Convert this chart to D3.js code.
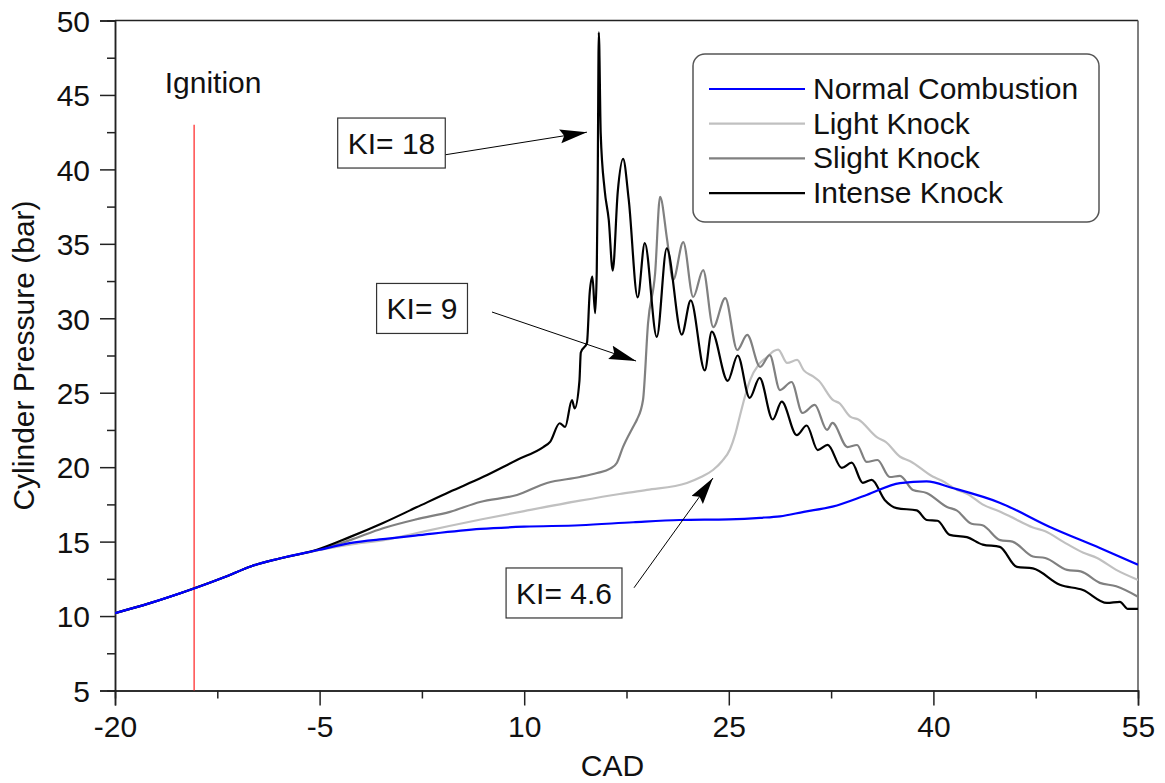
<!DOCTYPE html>
<html>
<head>
<meta charset="utf-8">
<script src="https://cdn.jsdelivr.net/npm/d3@7"></script>
<style>
  body { margin: 0; background: #fff; }
  svg { display: block; font-family: "Liberation Sans", Arial, sans-serif; }
</style>
</head>
<body>
<svg id="chart"></svg>
<script>
// CAD (deg) vs cylinder pressure (bar)
const normal = [[-20,10.2],[-17.5,10.85],[-15,11.6],[-14.2,11.85],[-12,12.6],[-10,13.35],[-8,13.85],[-5,14.45],[-2.8,14.9],[0,15.2],[2,15.4],[6.8,15.85],[10,16.0],[14.1,16.1],[18,16.3],[21.4,16.45],[25,16.5],[27.3,16.6],[28.75,16.7],[30.5,17.0],[32.6,17.35],[35.1,18.13],[37.55,18.93],[39.5,19.05],[41.4,18.6],[44.9,17.6],[48.5,16.0],[52.2,14.57],[55,13.45]]

const light = [[-20,10.2],[-17.5,10.85],[-15,11.6],[-12,12.6],[-10,13.35],[-8,13.85],[-5,14.45],[-2.77,14.8],[0,15.15],[2.14,15.58],[4.5,16.05],[6.9,16.5],[10,17.05],[14.09,17.75],[17,18.2],[19,18.47],[21.93,18.94],[23.0,19.35],[23.84,19.81],[24.5,20.4],[25.09,21.2],[25.5,22.3],[25.83,23.5],[26.2,24.8],[26.56,25.85],[27.2,26.9],[27.81,27.4],[28.3,27.8],[28.62,27.9],[29.28,27.0],[30.01,27.2],[30.5,26.5],[31.18,26.1],[31.6,25.8],[32.65,24.5],[33.1,24.3],[33.9,23.4],[34.5,23.2],[35.88,22.0],[36.5,21.7],[37.56,20.7],[38.3,20.4],[39.98,19.35],[40.6,19.1],[41.74,18.47],[42.5,18.2],[43.6,17.5],[44.9,17.0],[45.6,16.7],[47.3,15.95],[48.2,15.7],[49.5,15.0],[51,14.25],[52,13.9],[53.4,13.1],[55,12.43]]

const slight = [[-20,10.2],[-17.5,10.85],[-15,11.6],[-12,12.6],[-10,13.35],[-8,13.85],[-5,14.45],[-2.77,15.1],[-0.35,15.9],[2.1,16.5],[4.56,17.0],[6.76,17.66],[9.47,18.13],[11.67,18.94],[14.09,19.34],[15.34,19.61],[16.3,19.9],[16.8,20.3],[17.24,21.35],[17.98,22.7],[18.27,23.2],[18.71,24.51],[19.08,29.68],[19.6,33.04],[19.96,38.15],[20.48,35.26],[20.92,32.57],[21.66,35.12],[22.39,31.43],[23.12,33.24],[23.86,29.41],[24.74,31.36],[25.62,27.87],[26.35,28.88],[27.3,26.73],[28.0,27.53],[28.75,25.18],[29.6,25.72],[30.4,23.64],[31.3,24.18],[32.2,22.5],[32.6,22.97],[33.7,21.35],[34.4,21.49],[35.1,20.35],[35.9,20.48],[36.8,19.34],[37.55,19.41],[38.5,18.47],[39.5,18.27],[41.0,17.33],[41.7,17.1],[42.8,16.2],[43.6,16.1],[44.9,15.1],[45.8,15.0],[47.3,14.0],[48.2,13.9],[49.8,13.1],[50.8,13.0],[52.2,12.23],[53.4,12.0],[55,11.3]]

const intense = [[-20,10.2],[-17.5,10.85],[-15,11.6],[-12,12.6],[-10,13.35],[-8,13.85],[-5.2,14.45],[-2.8,15.3],[-0.35,16.25],[2.1,17.3],[4.55,18.35],[7.0,19.35],[9.5,20.5],[11.4,21.35],[11.9,21.7],[12.6,22.95],[13.0,22.7],[13.5,24.5],[13.7,23.95],[14.05,25.8],[14.15,27.7],[14.6,28.35],[14.8,31.7],[15.0,32.8],[15.2,30.35],[15.32,33.2],[15.39,39.3],[15.47,49.2],[15.61,42.4],[15.9,38.6],[16.2,36.6],[16.49,33.2],[16.86,38.5],[17.25,40.7],[17.66,38.0],[18.32,31.4],[18.84,35.05],[19.72,28.75],[20.45,34.7],[21.55,28.9],[22.21,31.2],[23.24,26.5],[23.75,29.1],[24.92,25.8],[25.65,27.5],[26.53,24.65],[27.26,26.0],[28.22,23.2],[28.88,24.4],[29.98,22.15],[30.71,22.8],[31.52,21.15],[32.25,21.5],[33.28,19.95],[34.01,20.3],[34.82,18.95],[35.48,19.15],[36.43,17.8],[37.31,17.25],[38.78,17.1],[39.51,16.45],[40.3,16.4],[41.2,15.45],[42.45,15.3],[43.62,14.8],[44.87,14.65],[46.12,13.3],[47.29,13.2],[49.27,12.1],[50.96,11.75],[52.72,10.88],[53.67,10.95],[54.26,10.48],[55,10.48]]

const seriesNames = ['Normal Combustion', 'Light Knock', 'Slight Knock', 'Intense Knock']
const seriesColors = ['#0000ff', '#c0c0c0', '#808080', '#000000']
const xTicks = [-20, -5, 10, 25, 40, 55]
const yTicks = [5, 10, 15, 20, 25, 30, 35, 40, 45, 50]

const ignitionCAD = -14.2
const ignitionTop = 43
// label text, box centre [CAD, bar], arrow tail, arrow tip
const kiLabels = ['KI= 18', 'KI= 9', 'KI= 4.6']
const kiBoxAt = [[0.27, 41.77], [2.51, 30.66], [12.92, 11.55]]
const kiTail = [[4.0, 40.95], [7.64, 30.42], [18.05, 11.9]]
const kiTip = [[14.6, 42.5], [18.2, 27.13], [23.84, 19.27]]

const W = 1165, H = 783
const margin = {top: 20.5, left: 115, right: 27, bottom: 92.5}

const svg = d3.select('#chart').attr('width', W).attr('height', H)

const x = d3.scaleLinear().domain([-20, 55]).range([margin.left, W - margin.right])
const y = d3.scaleLinear().domain([5, 50]).range([H - margin.bottom, margin.top])

svg.append('defs').append('clipPath').attr('id', 'clip')
  .append('rect')
  .attr('x', x(-20)).attr('y', y(50))
  .attr('width', x(55) - x(-20)).attr('height', y(5) - y(50))

svg.select('defs').append('marker')
  .attr('id', 'head')
  .attr('markerUnits', 'userSpaceOnUse')
  .attr('markerWidth', 28).attr('markerHeight', 16)
  .attr('refX', 27).attr('refY', 7)
  .attr('orient', 'auto')
  .append('path').attr('d', 'M0,0 L27,7 L0,14 L4,7 Z').attr('fill', '#000')

// frame
svg.append('line')
  .attr('x1', x(-20)).attr('x2', x(55)).attr('y1', y(50)).attr('y2', y(50))
  .attr('stroke', '#222').attr('stroke-width', 1.5)
svg.append('line')
  .attr('x1', x(55)).attr('x2', x(55)).attr('y1', y(50)).attr('y2', y(5))
  .attr('stroke', '#555').attr('stroke-width', 1.5)

// axes
const fontSize = 30
const yMinor = d3.range(7.5, 50, 5)
const xMinor = d3.range(-12.5, 55, 15)

const gy = svg.append('g').attr('transform', `translate(${x(-20)},0)`)
  .call(d3.axisLeft(y).tickValues(yTicks).tickSize(15).tickPadding(10).tickFormat(d => String(d)))
gy.append('g').call(d3.axisLeft(y).tickValues(yMinor).tickSize(8).tickFormat(''))

const gx = svg.append('g').attr('transform', `translate(0,${y(5)})`)
  .call(d3.axisBottom(x).tickValues(xTicks).tickSize(15).tickPadding(10).tickFormat(d => String(d)))
gx.append('g').call(d3.axisBottom(x).tickValues(xMinor).tickSize(8).tickFormat(''))

svg.selectAll('.domain').attr('stroke', '#222').attr('stroke-width', 1.5)
svg.selectAll('.tick line').attr('stroke', '#222').attr('stroke-width', 1.5)
svg.selectAll('.tick text').attr('font-size', fontSize).attr('fill', '#111')
  .attr('font-family', '"Liberation Sans", Arial, sans-serif')
gy.selectAll('.tick text').attr('dy', '0.36em')

svg.append('text')
  .attr('x', (x(-20) + x(55)) / 2 - 14).attr('y', 776)
  .attr('text-anchor', 'middle').attr('font-size', fontSize).attr('fill', '#111')
  .text('CAD')

svg.append('text')
  .attr('transform', `translate(34,${(y(5) + y(50)) / 2}) rotate(-90)`)
  .attr('text-anchor', 'middle').attr('font-size', fontSize).attr('fill', '#111')
  .text('Cylinder Pressure (bar)')

// ignition marker
svg.append('line')
  .attr('x1', x(ignitionCAD)).attr('x2', x(ignitionCAD))
  .attr('y1', y(ignitionTop)).attr('y2', y(5))
  .attr('stroke', '#ff2020').attr('stroke-width', 1.2)
svg.append('text')
  .attr('x', x(ignitionCAD) + 19).attr('y', y(45.1))
  .attr('text-anchor', 'middle').attr('font-size', fontSize).attr('fill', '#111')
  .text('Ignition')

// curves
const line = d3.line().x(d => x(d[0])).y(d => y(d[1])).curve(d3.curveMonotoneX)
const allSeries = [normal, light, slight, intense]
const plot = svg.append('g').attr('clip-path', 'url(#clip)')
plot.selectAll('path.curve')
  .data([1, 2, 3, 0])
  .enter().append('path')
  .attr('class', 'curve')
  .attr('d', i => line(allSeries[i]))
  .attr('fill', 'none')
  .attr('stroke', i => seriesColors[i])
  .attr('stroke-width', 2.2)
  .attr('stroke-linejoin', 'round')

// KI annotations
kiLabels.forEach((lab, i) => {
  svg.append('line')
    .attr('x1', x(kiTail[i][0])).attr('y1', y(kiTail[i][1]))
    .attr('x2', x(kiTip[i][0])).attr('y2', y(kiTip[i][1]))
    .attr('stroke', '#000').attr('stroke-width', 1)
    .attr('marker-end', 'url(#head)')
  const g = svg.append('g')
  const t = g.append('text')
    .attr('x', x(kiBoxAt[i][0])).attr('y', y(kiBoxAt[i][1]))
    .attr('dy', '0.36em')
    .attr('text-anchor', 'middle').attr('font-size', fontSize).attr('fill', '#111')
    .text(lab)
  const bb = t.node().getBBox()
  g.insert('rect', 'text')
    .attr('x', bb.x - 10).attr('y', y(kiBoxAt[i][1]) - 25)
    .attr('width', bb.width + 20).attr('height', 50)
    .attr('fill', '#fff').attr('stroke', '#333').attr('stroke-width', 1.2)
})

// legend
const lg = svg.append('g').attr('transform', 'translate(693,54)')
lg.append('rect')
  .attr('width', 406).attr('height', 168).attr('rx', 12)
  .attr('fill', '#fff').attr('stroke', '#555').attr('stroke-width', 1.5)
seriesNames.forEach((name, i) => {
  const yy = 35 + i * 34.7
  lg.append('line')
    .attr('x1', 16).attr('x2', 112).attr('y1', yy).attr('y2', yy)
    .attr('stroke', seriesColors[i]).attr('stroke-width', 2.2)
  lg.append('text')
    .attr('x', 120).attr('y', yy + 10)
    .attr('font-size', fontSize).attr('fill', '#111')
    .text(name)
})
</script>
</body>
</html>
